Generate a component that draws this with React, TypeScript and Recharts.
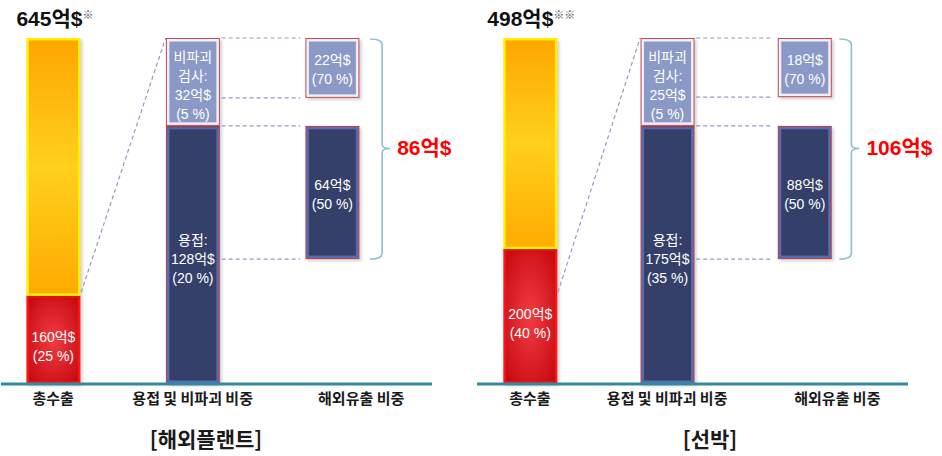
import { BarChart, Bar, XAxis, YAxis, ReferenceLine } from "recharts"

const categories = ["총수출", "용접 및 비파괴 비중", "해외유출 비중"]

// 해외플랜트 – drawn heights (% of the full column)
const plantBase = [0, 0, 36.1]
const plantLower = [25.5, 74.6, 38.5]
const plantGap = [0, 0, 8.1]
const plantUpper = [74.5, 25.4, 17.3]
const plantLowerText = [["160억$", "(25 %)"], ["용접:", "128억$", "(20 %)"], ["64억$", "(50 %)"]]
const plantUpperText = [[], ["비파괴", "검사:", "32억$", "(5 %)"], ["22억$", "(70 %)"]]

// 선박
const shipBase = [0, 0, 36.1]
const shipLower = [39, 74.6, 38.5]
const shipGap = [0, 0, 8.3]
const shipUpper = [61, 25.4, 17.1]
const shipLowerText = [["200억$", "(40 %)"], ["용접:", "175억$", "(35 %)"], ["88억$", "(50 %)"]]
const shipUpperText = [[], ["비파괴", "검사:", "25억$", "(5 %)"], ["18억$", "(70 %)"]]

const totals = ["645억$", "498억$"]
const totalMarks = ["※", "※※"]
const outflows = ["86억$", "106억$"]
const titles = ["[해외플랜트]", "[선박]"]
const zoomLevels = [26.5, 26.5]

const FONT_NARROW = "'Liberation Sans Narrow', 'Arial Narrow', 'Liberation Sans', 'Noto Sans CJK KR', sans-serif"
const FONT_KR = "'Noto Sans CJK KR', 'Noto Sans', sans-serif"
const FONT_BOLD = "'Liberation Sans', Arial, 'Noto Sans CJK KR', sans-serif"

const BAR = 54
const HALF = BAR / 2

function buildRows(base: number[], lower: number[], gap: number[], upper: number[], lowerText: string[][], upperText: string[][]) {
  return categories.map((name, i) => ({
    name,
    base: base[i],
    lower: lower[i],
    gap: gap[i],
    upper: upper[i],
    lowerText: lowerText[i],
    upperText: upperText[i],
  }))
}

const plantRows = buildRows(plantBase, plantLower, plantGap, plantUpper, plantLowerText, plantUpperText)
const shipRows = buildRows(shipBase, shipLower, shipGap, shipUpper, shipLowerText, shipUpperText)

const labelShift = [7, 4, 2]

function SegmentText({ x, y, width, height, lines, shift }: any) {
  if (!lines || !lines.length) return null
  const cx = x + width / 2
  const cy = y + height / 2 + shift
  return (
    <text fill="#fff" fontSize={14} fontFamily={FONT_NARROW} textAnchor="middle">
      {lines.map((l: string, i: number) => (
        <tspan key={i} x={cx} y={cy + (i - (lines.length - 1) / 2) * 19 + 5}>
          {l}
        </tspan>
      ))}
    </text>
  )
}

function Segment(props: any) {
  const { x, y, width, height, index, payload, part, id, total, mark, totalDx } = props
  if (!height || height <= 0) return <g />
  const lines = part === "lower" ? payload.lowerText : payload.upperText
  let body
  if (index === 0) {
    const isRed = part === "lower"
    body = (
      <g>
        <rect x={x + 2} y={y + 2} width={width} height={height} fill="rgba(0,0,0,0.18)" filter={`url(#sh-${id})`} />
        <rect
          x={x + 1.2}
          y={y + 1.2}
          width={width - 2.4}
          height={height - 2.4}
          fill={isRed ? `url(#red-${id})` : `url(#yel-${id})`}
          stroke={isRed ? "#ff1414" : "#fff000"}
          strokeWidth={2.4}
        />
      </g>
    )
  } else {
    const dark = part === "lower"
    body = (
      <g>
        <rect x={x + 2} y={y + 2} width={width} height={height} fill="rgba(0,0,0,0.18)" filter={`url(#sh-${id})`} />
        <rect x={x} y={y} width={width} height={height} fill={dark ? "#c0424c" : "#c9484f"} />
        <rect x={x + 1} y={y + 1} width={width - 2} height={height - 2} fill={dark ? "#5a6cb0" : "#eef1fc"} />
        <rect x={x + 3.5} y={y + 3.5} width={width - 7} height={height - 7} fill={dark ? "#34406a" : "#8b99c6"} />
      </g>
    )
  }
  return (
    <g>
      {body}
      <SegmentText x={x} y={y} width={width} height={height} lines={lines} shift={labelShift[index]} />
      {index === 0 && part === "upper" && (
        <text x={x + totalDx} y={y - 12} fontFamily={FONT_NARROW} fontWeight={700} fontSize={21} fill="#111">
          {total}
          <tspan fontSize={11} fill="#505050" fontWeight={900} dy={-7} fontFamily={FONT_KR}>
            {mark}
          </tspan>
        </text>
      )}
    </g>
  )
}

function CategoryTick({ x, y, payload, index, shift }: any) {
  return (
    <text x={x + (index === 2 ? shift : 0)} y={y + 19.5} textAnchor="middle" fontSize={15} fontWeight={700} fill="#1a1a1a" fontFamily={FONT_KR}>
      {payload.value}
    </text>
  )
}

// dashed connector between two columns, trimmed to their facing edges
function DashLink({ x1, y1, x2, y2, gapA, gapB }: any) {
  return <line x1={x1 + gapA} y1={y1} x2={x2 - gapB} y2={y2} stroke="#8d9cc8" strokeDasharray="4 3" strokeWidth={1.2} />
}

function Brace({ x1, y1, y2, text, off }: any) {
  const x = x1 + HALF + off
  const top = Math.min(y1, y2)
  const bot = Math.max(y1, y2)
  const mid = (top + bot) / 2
  const d = `M ${x - 12} ${top + 1} Q ${x} ${top + 1} ${x} ${top + 7} L ${x} ${mid - 4} Q ${x} ${mid} ${x + 8} ${mid} Q ${x} ${mid} ${x} ${mid + 4} L ${x} ${bot - 6} Q ${x} ${bot} ${x - 12} ${bot}`
  return (
    <g>
      <path d={d} fill="none" stroke="#8cc3cf" strokeWidth={1.6} />
      <text x={x + 15} y={mid - 1} dominantBaseline="central" fill="#ff0000" fontSize={21} fontWeight={700} fontFamily={FONT_BOLD}>
        {text}
      </text>
    </g>
  )
}

interface PanelProps {
  id: string
  rows: any[]
  total: string
  mark: string
  outflow: string
  title: string
  zoomLevel: number
  layout: { left: number; right: number; padL: number; padR: number; titleDx: number; totalDx: number; tickShift: number; braceOff: number }
}

function Panel({ id, rows, total, mark, outflow, title, zoomLevel, layout }: PanelProps) {
  const r = rows[2]
  const levels = [r.base + r.lower + r.gap + r.upper, r.base + r.lower + r.gap, r.base + r.lower, r.base]
  return (
    <BarChart
      width={471}
      height={456}
      data={rows}
      margin={{ top: 38, right: layout.right, left: layout.left, bottom: 0 }}
      barSize={BAR}
    >
      <defs>
        <linearGradient id={`yel-${id}`} x1="0" y1="0" x2="0" y2="1">
          <stop offset="0" stopColor="#ffa600" />
          <stop offset="0.5" stopColor="#ffd01c" />
          <stop offset="1" stopColor="#ffab00" />
        </linearGradient>
        <radialGradient id={`red-${id}`} cx="50%" cy="50%" r="65%">
          <stop offset="0" stopColor="#f03c44" />
          <stop offset="1" stopColor="#c80a10" />
        </radialGradient>
        <filter id={`sh-${id}`} x="-20%" y="-20%" width="140%" height="140%">
          <feGaussianBlur stdDeviation="1.5" />
        </filter>
      </defs>
      <XAxis
        dataKey="name"
        padding={{ left: layout.padL, right: layout.padR }}
        axisLine={{ stroke: "#3389a0", strokeWidth: 3 }}
        tickLine={false}
        tickSize={0}
        tickMargin={0}
        height={72}
        interval={0}
        tick={<CategoryTick shift={layout.tickShift} />}
        label={(p: any) => (
          <text
            x={p.viewBox.x + p.viewBox.width / 2 + layout.titleDx}
            y={447}
            textAnchor="middle"
            fontSize={21}
            fontWeight={700}
            fill="#1a1a1a"
            fontFamily={FONT_KR}
          >
            {title}
          </text>
        )}
      />
      <YAxis hide domain={[0, 100]} />
      <Bar dataKey="base" stackId="s" fill="transparent" isAnimationActive={false} />
      <Bar dataKey="lower" stackId="s" isAnimationActive={false} shape={(p: any) => <Segment {...p} part="lower" id={id} />} />
      <Bar dataKey="gap" stackId="s" fill="transparent" isAnimationActive={false} />
      <Bar
        dataKey="upper"
        stackId="s"
        isAnimationActive={false}
        shape={(p: any) => <Segment {...p} part="upper" id={id} total={total} mark={mark} totalDx={layout.totalDx} />}
      />
      <ReferenceLine
        ifOverflow="visible"
        segment={[{ x: categories[0], y: zoomLevel }, { x: categories[1], y: 100 }]}
        shape={(p: any) => <DashLink {...p} gapA={HALF + 1} gapB={HALF} />}
      />
      {levels.map((lv, i) => (
        <ReferenceLine
          key={i}
          ifOverflow="visible"
          segment={[{ x: categories[1], y: lv }, { x: categories[2], y: lv }]}
          shape={(p: any) => <DashLink {...p} gapA={HALF + 2} gapB={HALF + 5} />}
        />
      ))}
      <ReferenceLine
        ifOverflow="visible"
        segment={[{ x: categories[2], y: levels[0] }, { x: categories[2], y: levels[3] }]}
        shape={(p: any) => <Brace {...p} text={outflow} off={layout.braceOff} />}
      />
    </BarChart>
  )
}

export default function App() {
  return (
    <div style={{ position: "absolute", left: 0, top: 0, width: 942, height: 456, display: "flex", background: "#fff" }}>
      <Panel
        id="plant"
        rows={plantRows}
        total={totals[0]}
        mark={totalMarks[0]}
        outflow={outflows[0]}
        title={titles[0]}
        zoomLevel={zoomLevels[0]}
        layout={{ left: 1, right: 39, padL: -17.6, padR: 30.1, titleDx: -10.5, totalDx: -10, tickShift: 29, braceOff: 23 }}
      />
      <Panel
        id="ship"
        rows={shipRows}
        total={totals[1]}
        mark={totalMarks[1]}
        outflow={outflows[1]}
        title={titles[1]}
        zoomLevel={zoomLevels[1]}
        layout={{ left: 6, right: 34, padL: -15.7, padR: 35, titleDx: 17.5, totalDx: -16, tickShift: 33, braceOff: 20 }}
      />
    </div>
  )
}
